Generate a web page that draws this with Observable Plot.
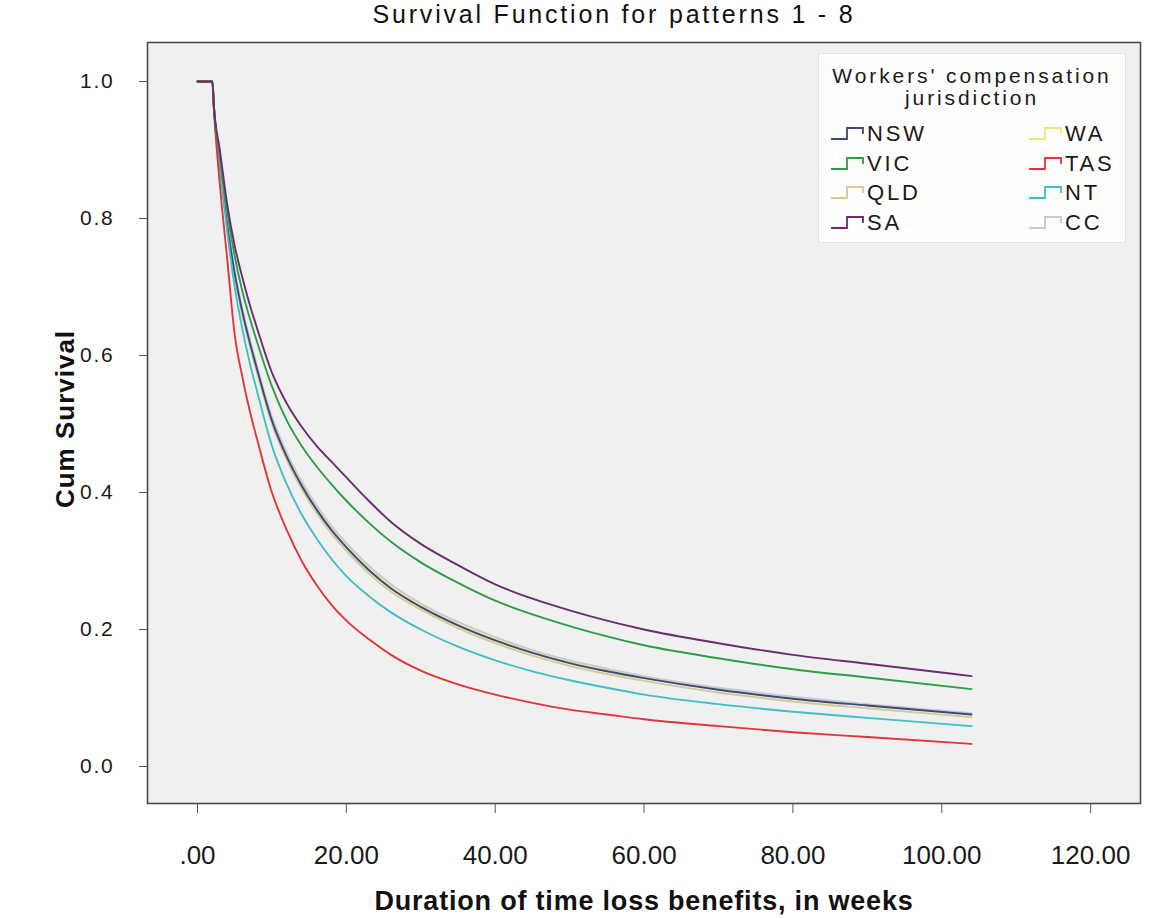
<!DOCTYPE html>
<html>
<head>
<meta charset="utf-8">
<script src="https://cdn.jsdelivr.net/npm/d3@7"></script>
<script src="https://cdn.jsdelivr.net/npm/@observablehq/plot@0.6"></script>
<style>
  body { margin: 0; background: #fff; }
  #wrap { position: relative; width: 1154px; height: 918px; }
  #title { box-sizing: border-box; height: 34px; line-height: 36px; padding-left: 74px; padding-right: 0;
           text-align: center; font: 25px "Liberation Sans", Arial, sans-serif; letter-spacing: 2.8px; color: #111; }
  #legend { position: absolute; left: 818px; top: 53px; width: 308px; height: 190px; background: #fdfdfd;
            border: 1px solid #e2e2e2; box-sizing: border-box; font-family: "Liberation Sans", Arial, sans-serif; color: #1a1a1a; }
  #legend .lt { position: absolute; left: 0; width: 100%; text-align: center; font-size: 21px; line-height: 22px; letter-spacing: 2.9px; }
  #legend .item { position: absolute; height: 24px; line-height: 24px; font-size: 22px; letter-spacing: 2.8px; white-space: nowrap; }
  #legend .item svg { position: absolute; left: 0; top: 0; }
  #legend .item span { position: absolute; left: 37px; top: 0; }
</style>
</head>
<body>
<div id="wrap">
  <div id="title">Survival Function for patterns 1 - 8</div>
  <div id="chart"></div>
  <div id="legend"></div>
</div>
<script>
// ---- data ----
const regions = ["NSW", "VIC", "QLD", "SA", "WA", "TAS", "NT", "CC"];
const colors  = ["#3b4a7e", "#2c9e44", "#d8c98e", "#6b2c72", "#ece86e", "#e0363a", "#3fbfc6", "#c4cbd6"];
const weeks = [0, 2, 2.2, 3, 4, 5, 6, 7, 8, 10, 12, 14, 16, 18, 20, 23, 26, 30, 35, 40, 45, 50, 55, 60, 70, 80, 90, 104];
const NSW = [1, 1, 0.962, 0.88, 0.79, 0.72, 0.665, 0.62, 0.58, 0.505, 0.452, 0.41, 0.375, 0.345, 0.32, 0.287, 0.26, 0.233, 0.206, 0.184, 0.166, 0.151, 0.139, 0.129, 0.112, 0.099, 0.089, 0.076];
const VIC = [1, 1, 0.963, 0.89, 0.81, 0.745, 0.695, 0.655, 0.62, 0.555, 0.505, 0.468, 0.438, 0.412, 0.388, 0.356, 0.328, 0.298, 0.268, 0.242, 0.222, 0.205, 0.19, 0.177, 0.158, 0.142, 0.13, 0.113];
const QLD = [1, 1, 0.962, 0.878, 0.787, 0.716, 0.66, 0.615, 0.575, 0.5, 0.447, 0.405, 0.37, 0.34, 0.315, 0.282, 0.255, 0.229, 0.202, 0.18, 0.162, 0.147, 0.135, 0.125, 0.108, 0.095, 0.085, 0.072];
const SA  = [1, 1, 0.965, 0.9, 0.82, 0.76, 0.715, 0.675, 0.64, 0.575, 0.53, 0.496, 0.468, 0.445, 0.422, 0.388, 0.357, 0.325, 0.294, 0.266, 0.245, 0.228, 0.213, 0.2, 0.18, 0.163, 0.15, 0.132];
const WA  = [1, 1, 0.962, 0.88, 0.79, 0.72, 0.666, 0.621, 0.581, 0.507, 0.454, 0.412, 0.377, 0.347, 0.322, 0.289, 0.262, 0.235, 0.208, 0.186, 0.168, 0.153, 0.141, 0.131, 0.114, 0.101, 0.09, 0.077];
const TAS = [1, 1, 0.96, 0.85, 0.74, 0.63, 0.57, 0.52, 0.478, 0.4, 0.345, 0.3, 0.265, 0.236, 0.213, 0.186, 0.163, 0.14, 0.12, 0.105, 0.093, 0.083, 0.076, 0.069, 0.059, 0.05, 0.043, 0.033];
const NT  = [1, 1, 0.962, 0.875, 0.78, 0.7, 0.64, 0.59, 0.548, 0.468, 0.412, 0.368, 0.333, 0.303, 0.278, 0.249, 0.225, 0.2, 0.175, 0.155, 0.139, 0.126, 0.115, 0.105, 0.091, 0.08, 0.071, 0.059];
const CC  = [1, 1, 0.963, 0.882, 0.793, 0.724, 0.67, 0.625, 0.585, 0.511, 0.458, 0.416, 0.381, 0.351, 0.326, 0.293, 0.266, 0.238, 0.211, 0.189, 0.17, 0.155, 0.143, 0.132, 0.115, 0.102, 0.091, 0.078];
const xTicks = [0, 20, 40, 60, 80, 100, 120];
const yTicks = [0, 0.2, 0.4, 0.6, 0.8, 1.0];
const legendTitle = ["Workers' compensation", "jurisdiction"];
const xLabel = "Duration of time loss benefits, in weeks";
const yLabel = "Cum Survival";

// ---- tidy table ----
const seriesValues = {NSW, VIC, QLD, SA, WA, TAS, NT, CC};
const drawOrder = ["QLD", "WA", "CC", "NSW", "NT", "TAS", "VIC", "SA"];
const table = drawOrder.flatMap(r => weeks.map((w, i) => ({region: r, week: w, surv: seriesValues[r][i]})));

const font = '"Liberation Sans", Arial, sans-serif';

const plot = Plot.plot({
  width: 1154, height: 884,
  marginLeft: 147, marginRight: 14, marginTop: 8, marginBottom: 115,
  style: {background: "transparent", color: "#222"},
  x: {domain: [-6.72, 126.7]},
  y: {domain: [-0.054, 1.057]},
  color: {domain: regions, range: colors},
  marks: [
    Plot.frame({fill: "#f0f0f0", stroke: "none"}),
    Plot.line(table, {x: "week", y: "surv", z: "region", stroke: "region", strokeWidth: 1.9, curve: "monotone-x"}),
    Plot.frame({stroke: "#4a4a4a", strokeWidth: 1.6}),
    Plot.axisX({ticks: xTicks, tickSize: 10, tickPadding: 32, stroke: "#555", fill: "#1a1a1a",
                tickFormat: d => d === 0 ? ".00" : d.toFixed(2),
                fontSize: 26, fontFamily: font, label: null}),
    Plot.axisY({ticks: yTicks, tickSize: 8, tickPadding: 25, stroke: "#555", fill: "#1a1a1a",
                tickFormat: d => d.toFixed(1),
                fontSize: 21, fontFamily: font, label: null}),
    Plot.text([xLabel], {frameAnchor: "bottom", dy: 106, text: d => d, fontSize: 27, fontWeight: "bold",
                         fontFamily: font, fill: "#111", textAnchor: "middle"}),
    Plot.text([yLabel], {frameAnchor: "left", dx: -82, dy: -4, rotate: -90, text: d => d, fontSize: 26, fontWeight: "bold",
                         fontFamily: font, fill: "#111", textAnchor: "middle"})
  ]
});
document.getElementById("chart").appendChild(plot);
// spread a few texts the way the reference glyphs are spread
d3.select(plot).selectAll("text").filter(function() { return this.textContent === xLabel || this.textContent === yLabel; })
  .attr("letter-spacing", function() { return this.textContent === xLabel ? 0.8 : 1; });
d3.select(plot).selectAll("[aria-label='y-axis tick label'] text").attr("letter-spacing", 1.8);

// ---- legend ----
const lg = document.getElementById("legend");
legendTitle.forEach((t, i) => {
  const d = document.createElement("div");
  d.className = "lt";
  d.style.top = (11 + i * 22) + "px";
  d.textContent = t;
  lg.appendChild(d);
});
regions.forEach((r, i) => {
  const col = Math.floor(i / 4), row = i % 4;
  const d = document.createElement("div");
  d.className = "item";
  d.style.left = (col === 0 ? 11 : 209) + "px";
  d.style.top = (68 + row * 29.5) + "px";
  d.innerHTML = `<svg width="36" height="24"><path d="M1,17H17V6H33V12" fill="none" stroke="${colors[i]}" stroke-width="1.8"/></svg><span>${r}</span>`;
  lg.appendChild(d);
});
</script>
</body>
</html>
